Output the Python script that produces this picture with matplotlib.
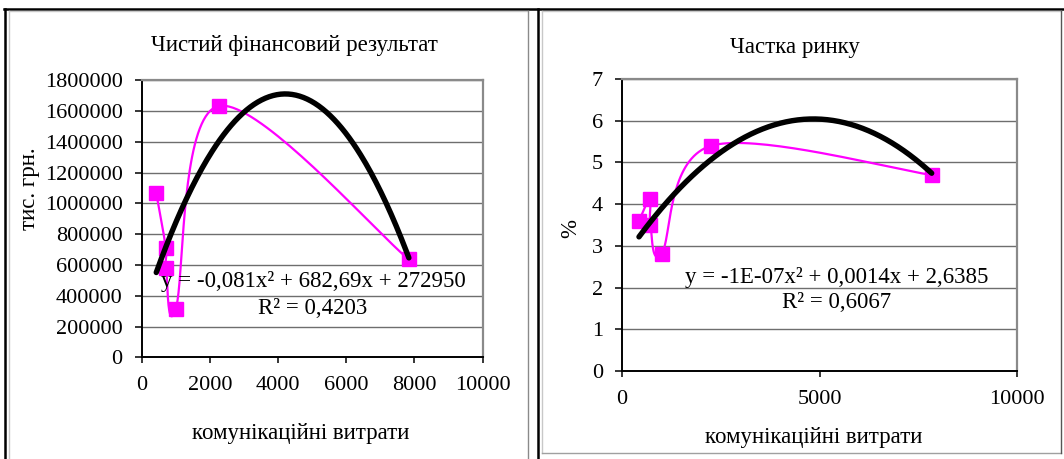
import numpy as np
import matplotlib
matplotlib.use('Agg')
import matplotlib.pyplot as plt
from matplotlib.lines import Line2D
from matplotlib.ticker import MultipleLocator, FuncFormatter

plt.rcParams['font.family'] = ['Liberation Serif', 'DejaVu Serif']

# data
costs = [430, 710, 720, 1000, 2260, 7840]          # комунікаційні витрати
profit = [1066000, 713000, 583000, 313000, 1633000, 636000]
share = [3.6, 4.13, 3.5, 2.81, 5.4, 4.7]

# polynomial trend coefficients (x^2, x, 1)
profit_fit = [-0.081, 682.69, 272950]
share_fit = [-1.45e-07, 0.001405, 2.6385]

profit_eq = ['y = -0,081x\u00b2 + 682,69x + 272950', 'R\u00b2 = 0,4203']
share_eq = ['y = -1E-07x\u00b2 + 0,0014x + 2,6385', 'R\u00b2 = 0,6067']

W, H = 1064, 459
FS = 16.5
TFS = 16
MAGENTA = '#FF00FF'


def fx(x):
    return x / W


def fy(y):
    return 1 - y / H


def excel_smooth(ax, xs, ys, n=40):
    # bezier smoothing like excel "smoothed line", done in pixel space
    pts = ax.transData.transform(np.column_stack([xs, ys]))
    p = np.vstack([pts[0], pts, pts[-1]])
    t = np.linspace(0, 1, n)[:, None]
    segs = []
    for i in range(1, len(p) - 2):
        p0, p1, p2, p3 = p[i - 1], p[i], p[i + 1], p[i + 2]
        c1 = p1 + (p2 - p0) / 6
        c2 = p2 - (p3 - p1) / 6
        segs.append((1 - t) ** 3 * p1 + 3 * (1 - t) ** 2 * t * c1
                    + 3 * (1 - t) * t ** 2 * c2 + t ** 3 * p2)
    return ax.transData.inverted().transform(np.vstack(segs))


def style_axes(ax):
    ax.spines['left'].set_color('black')
    ax.spines['bottom'].set_color('black')
    ax.spines['left'].set_linewidth(1.4)
    ax.spines['bottom'].set_linewidth(1.4)
    for s in ('top', 'right'):
        ax.spines[s].set_color('#8a8a8a')
        ax.spines[s].set_linewidth(1.6)
    ax.yaxis.grid(True, color='#6e6e6e', lw=1.0)
    ax.set_axisbelow(True)
    ax.tick_params(axis='y', direction='out', length=5.2, width=1.1,
                   pad=8.5, labelsize=TFS)
    ax.tick_params(axis='x', direction='out', length=4.5, width=1.1,
                   pad=9, labelsize=TFS)


def draw_series(ax, xs, ys, coef):
    curve = excel_smooth(ax, xs, ys)
    ax.plot(curve[:, 0], curve[:, 1], color=MAGENTA, lw=1.6, zorder=3)
    ax.plot(xs, ys, ls='none', marker='s', ms=10, color=MAGENTA, zorder=4)
    xt = np.linspace(min(xs), max(xs), 200)
    ax.plot(xt, np.polyval(coef, xt), color='black', lw=3.9,
            solid_capstyle='round', zorder=5)


fig = plt.figure(figsize=(W / 100, H / 100), dpi=100)

# ---- left chart
ax1 = fig.add_axes([141.6 / W, 1 - 357.4 / H, (482.5 - 141.6) / W, (357.4 - 80.3) / H])
ax1.set_xlim(0, 10000)
ax1.set_ylim(0, 1800000)
ax1.xaxis.set_major_locator(MultipleLocator(2000))
ax1.yaxis.set_major_locator(MultipleLocator(200000))
ax1.yaxis.set_major_formatter(FuncFormatter(lambda v, p: f'{v:.0f}'))
style_axes(ax1)
draw_series(ax1, costs, profit, profit_fit)

fig.text(fx(294), fy(46), 'Чистий фінансовий результат', fontsize=FS,
         ha='center', va='center')
fig.text(fx(30), fy(189), 'тис. грн.', fontsize=FS, rotation=90,
         ha='center', va='center')
fig.text(fx(301), fy(434), 'комунікаційні витрати', fontsize=FS,
         ha='center', va='center')
fig.text(fx(313), fy(282), profit_eq[0], fontsize=FS, ha='center',
         va='center', zorder=10)
fig.text(fx(313), fy(308), profit_eq[1], fontsize=FS, ha='center',
         va='center', zorder=10)

# ---- right chart
ax2 = fig.add_axes([622 / W, 1 - 371 / H, (1017 - 622) / W, (371 - 79) / H])
ax2.set_xlim(0, 10000)
ax2.set_ylim(0, 7)
ax2.xaxis.set_major_locator(MultipleLocator(5000))
ax2.yaxis.set_major_locator(MultipleLocator(1))
style_axes(ax2)
draw_series(ax2, costs, share, share_fit)

fig.text(fx(795), fy(48), 'Частка ринку', fontsize=FS,
         ha='center', va='center')
fig.text(fx(571), fy(228), '%', fontsize=FS, rotation=90,
         ha='center', va='center')
fig.text(fx(814), fy(437), 'комунікаційні витрати', fontsize=FS,
         ha='center', va='center')
fig.text(fx(837), fy(278), share_eq[0], fontsize=FS, ha='center',
         va='center', zorder=10)
fig.text(fx(837), fy(303), share_eq[1], fontsize=FS, ha='center',
         va='center', zorder=10)

# ---- page frame lines
def line(x0, y0, x1, y1, color, lw):
    fig.add_artist(Line2D([fx(x0), fx(x1)], [fy(y0), fy(y1)], color=color,
                          lw=lw, transform=fig.transFigure))

line(4, 9, 1064, 9, 'black', 1.8)
line(5, 9, 5, 459, 'black', 1.8)
line(538.3, 9, 538.3, 459, 'black', 1.8)
line(8.7, 10.7, 528, 10.7, '#c8c8c8', 1.0)
line(8.7, 10.7, 8.7, 459, '#c8c8c8', 1.0)
line(528, 10.7, 528, 459, '#8a8a8a', 1.0)
line(541.7, 10.7, 1061.3, 10.7, '#c8c8c8', 1.0)
line(541.7, 10.7, 541.7, 453.3, '#c8c8c8', 1.0)
line(541.7, 453.3, 1061.3, 453.3, '#a0a0a0', 1.0)
line(1061.3, 10.7, 1061.3, 453.3, '#555555', 1.0)

fig.savefig('out.png', dpi=100)
